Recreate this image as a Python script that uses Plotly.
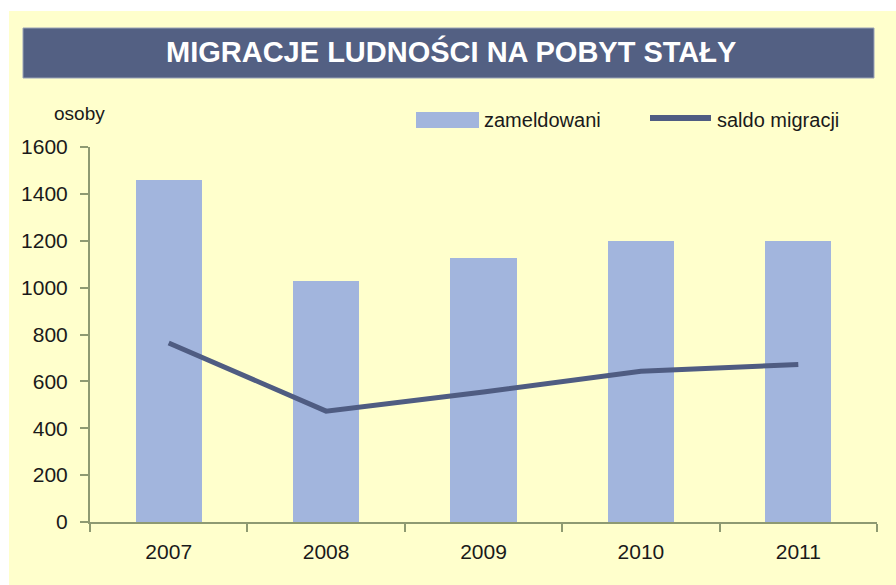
import plotly.graph_objects as go

years = ["2007", "2008", "2009", "2010", "2011"]
zameldowani = [1460, 1028, 1126, 1199, 1199]
saldo = [764, 473, 555, 643, 672]
y_ticks = [0, 200, 400, 600, 800, 1000, 1200, 1400, 1600]

W, H = 896, 585
L, R, T, B = 90, 19, 147, 63
pw = W - L - R
ph = H - T - B

def px(x):
    return (x - L) / pw

def py(y):
    return (H - B - y) / ph

BG = "#FFFFCC"
BAR = "#A2B5DD"
LINE = "#4F5C82"
AX = "#8E9A72"
TXT = "#1a1a1a"
FONT = "Liberation Sans, Arial, sans-serif"

fig = go.Figure()
fig.add_trace(go.Bar(x=years, y=zameldowani, width=0.42, marker=dict(color=BAR, line=dict(width=0)),
                     name="zameldowani", showlegend=False))
fig.add_trace(go.Scatter(x=years, y=saldo, mode="lines", line=dict(color=LINE, width=5),
                         name="saldo migracji", showlegend=False))

shapes = [
    dict(type="rect", xref="paper", yref="paper", x0=px(9), x1=px(897), y0=py(586), y1=py(11),
         fillcolor=BG, line=dict(width=0), layer="below"),
    dict(type="rect", xref="paper", yref="paper", x0=px(23), x1=px(874), y0=py(78), y1=py(28),
         fillcolor="#536083", line=dict(color="#9aa3b8", width=1), layer="below"),
    dict(type="rect", xref="paper", yref="paper", x0=px(416), x1=px(479), y0=py(128), y1=py(112),
         fillcolor=BAR, line=dict(width=0)),
    dict(type="line", xref="paper", yref="paper", x0=px(650), x1=px(711), y0=py(118), y1=py(118),
         line=dict(color=LINE, width=6)),
]

annotations = [
    dict(text="<b>MIGRACJE LUDNOŚCI NA POBYT STAŁY</b>", xref="paper", yref="paper",
         x=px(451), y=py(51), xanchor="center", yanchor="middle", showarrow=False,
         font=dict(family=FONT, size=29, color="white")),
    dict(text="osoby", xref="paper", yref="paper", x=px(52), y=py(113), xanchor="left",
         yanchor="middle", showarrow=False, font=dict(family=FONT, size=19, color=TXT)),
    dict(text="zameldowani", xref="paper", yref="paper", x=px(482), y=py(120), xanchor="left",
         yanchor="middle", showarrow=False, font=dict(family=FONT, size=20, color=TXT)),
    dict(text="saldo migracji", xref="paper", yref="paper", x=px(715), y=py(120), xanchor="left",
         yanchor="middle", showarrow=False, font=dict(family=FONT, size=20, color=TXT)),
]

fig.update_layout(
    width=W, height=H,
    margin=dict(l=L, r=R, t=T, b=B, pad=0),
    paper_bgcolor="white", plot_bgcolor="rgba(0,0,0,0)",
    shapes=shapes, annotations=annotations,
    showlegend=False, bargap=0,
    font=dict(family=FONT, color=TXT),
)
fig.update_yaxes(range=[0, 1600], tickvals=y_ticks, showgrid=False, zeroline=False,
                 showline=True, linecolor=AX, linewidth=2, ticks="outside", ticklen=8,
                 tickcolor=AX, tickwidth=2, tickfont=dict(size=21, color=TXT),
                 ticklabelstandoff=8)
fig.update_xaxes(type="category", range=[-0.5, 4.5], showgrid=False, zeroline=False,
                 showline=True, linecolor=AX, linewidth=2, ticks="outside", ticklen=8,
                 tickcolor=AX, tickwidth=2, tickson="boundaries",
                 tickfont=dict(size=21, color=TXT), ticklabelstandoff=10)

fig.write_html("out.html", config={"displayModeBar": False},
               post_script="document.body.style.margin='0';document.body.style.overflow='hidden';")
